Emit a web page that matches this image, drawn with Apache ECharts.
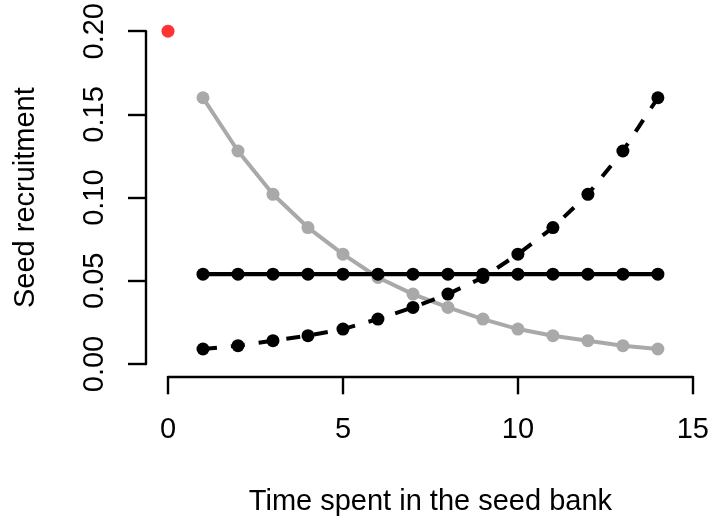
<!DOCTYPE html>
<html>
<head>
<meta charset="utf-8">
<script src="https://cdn.jsdelivr.net/npm/echarts@6/dist/echarts.min.js"></script>
<style>
  html, body { margin: 0; padding: 0; background: #ffffff; }
  #chart { width: 712px; height: 521px; }
</style>
</head>
<body>
<div id="chart"></div>
<script>
// Years spent in the seed bank
var years = [1, 2, 3, 4, 5, 6, 7, 8, 9, 10, 11, 12, 13, 14];

// Recruitment declining with age (grey)
var decreasing = [0.160, 0.128, 0.102, 0.082, 0.066, 0.052, 0.042, 0.034, 0.027, 0.021, 0.017, 0.014, 0.011, 0.009];
// Recruitment rising with age (black, dashed)
var increasing = [0.009, 0.011, 0.014, 0.017, 0.021, 0.027, 0.034, 0.042, 0.052, 0.066, 0.082, 0.102, 0.128, 0.160];
// Constant recruitment (black, solid)
var constant = [0.054, 0.054, 0.054, 0.054, 0.054, 0.054, 0.054, 0.054, 0.054, 0.054, 0.054, 0.054, 0.054, 0.054];
// Immediate germination at age 0 (red)
var immediate = [[0, 0.20]];

var xTicks = [0, 5, 10, 15];
var yTicks = [0, 0.05, 0.10, 0.15, 0.20];

function pairs(xs, ys) {
  return xs.map(function (x, i) { return [x, ys[i]]; });
}

var FONT = '"Liberation Sans", Arial, sans-serif';

var chart = echarts.init(document.getElementById('chart'), null, { renderer: 'canvas' });

chart.setOption({
  animation: false,
  backgroundColor: '#ffffff',
  grid: { left: 168, right: 19, top: 30.7, bottom: 156, containLabel: false },
  xAxis: {
    type: 'value',
    min: xTicks[0],
    max: xTicks[xTicks.length - 1],
    interval: 5,
    offset: 12.3,
    name: 'Time spent in the seed bank',
    nameLocation: 'middle',
    nameGap: 110.7,
    nameTextStyle: { color: '#000', fontSize: 29, fontFamily: FONT },
    axisLine: { show: true, onZero: false, lineStyle: { color: '#000', width: 2.4 } },
    axisTick: { show: true, length: 18, lineStyle: { color: '#000', width: 2.4 } },
    axisLabel: { color: '#000', fontSize: 29, fontFamily: FONT, margin: 39 },
    splitLine: { show: false }
  },
  yAxis: {
    type: 'value',
    min: yTicks[0],
    max: yTicks[yTicks.length - 1],
    interval: 0.05,
    offset: 22,
    name: 'Seed recruitment',
    nameLocation: 'middle',
    nameGap: 106,
    nameTextStyle: { color: '#000', fontSize: 29, fontFamily: FONT },
    axisLine: { show: true, onZero: false, lineStyle: { color: '#000', width: 2.4 } },
    axisTick: { show: true, length: 18, lineStyle: { color: '#000', width: 2.4 } },
    axisLabel: {
      color: '#000', fontSize: 29, fontFamily: FONT, margin: 36.5, rotate: 90,
      formatter: function (v) { return v.toFixed(2); }
    },
    splitLine: { show: false }
  },
  series: [
    {
      name: 'decreasing',
      type: 'line',
      data: pairs(years, decreasing),
      symbol: 'circle',
      symbolSize: 13,
      showAllSymbol: true,
      clip: false,
      itemStyle: { color: '#A9A9A9' },
      lineStyle: { color: '#A9A9A9', width: 4 },
      z: 2
    },
    {
      name: 'increasing',
      type: 'line',
      data: pairs(years, increasing),
      symbol: 'circle',
      symbolSize: 13,
      showAllSymbol: true,
      clip: false,
      itemStyle: { color: '#000' },
      lineStyle: { color: '#000', width: 4, type: [14, 14] },
      z: 3
    },
    {
      name: 'constant',
      type: 'line',
      data: pairs(years, constant),
      symbol: 'circle',
      symbolSize: 13,
      showAllSymbol: true,
      clip: false,
      itemStyle: { color: '#000' },
      lineStyle: { color: '#000', width: 4.4 },
      z: 4
    },
    {
      name: 'immediate',
      type: 'scatter',
      data: immediate,
      symbol: 'circle',
      symbolSize: 13,
      clip: false,
      itemStyle: { color: '#FF0000' },
      z: 5
    }
  ]
});
</script>
</body>
</html>
